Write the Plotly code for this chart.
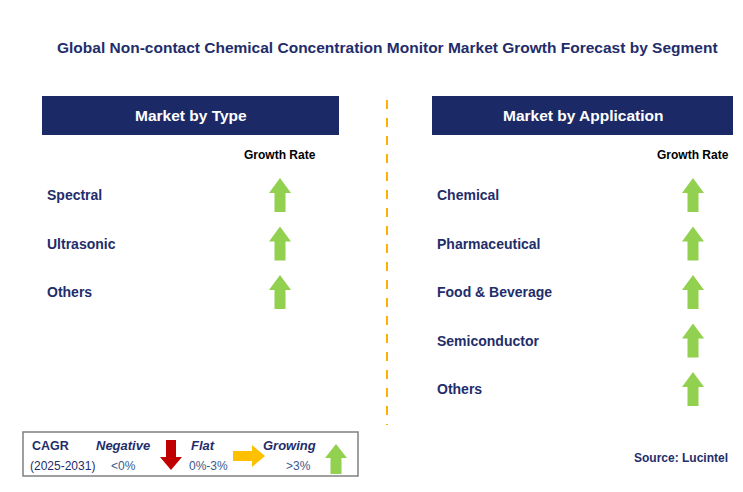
import plotly.graph_objects as go

W, H = 743, 492
OFF = 8  # page body margin
NAVY = "#1F2D6B"
GREEN = "#92D050"

title = "Global Non-contact Chemical Concentration Monitor Market Growth Forecast by Segment"
type_items = ["Spectral", "Ultrasonic", "Others"]
app_items = ["Chemical", "Pharmaceutical", "Food & Beverage", "Semiconductor", "Others"]
type_growth = ["up", "up", "up"]
app_growth = ["up", "up", "up", "up", "up"]
source = "Source: Lucintel"

fig = go.Figure()


def arrow(cx, cy, direction, color, w=22, h=34, shaft=11, head=15):
    # polygon for a block arrow centered at (cx, cy)
    if direction == "up":
        pts = [(cx - shaft / 2, cy + h / 2), (cx - shaft / 2, cy - h / 2 + head), (cx - w / 2, cy - h / 2 + head),
               (cx, cy - h / 2), (cx + w / 2, cy - h / 2 + head), (cx + shaft / 2, cy - h / 2 + head),
               (cx + shaft / 2, cy + h / 2)]
    elif direction == "down":
        pts = [(cx - shaft / 2, cy - h / 2), (cx - shaft / 2, cy + h / 2 - head), (cx - w / 2, cy + h / 2 - head),
               (cx, cy + h / 2), (cx + w / 2, cy + h / 2 - head), (cx + shaft / 2, cy + h / 2 - head),
               (cx + shaft / 2, cy - h / 2)]
    else:  # right
        pts = [(cx - h / 2, cy - shaft / 2), (cx + h / 2 - head, cy - shaft / 2), (cx + h / 2 - head, cy - w / 2),
               (cx + h / 2, cy), (cx + h / 2 - head, cy + w / 2), (cx + h / 2 - head, cy + shaft / 2),
               (cx - h / 2, cy + shaft / 2)]
    xs = [p[0] for p in pts] + [pts[0][0]]
    ys = [p[1] for p in pts] + [pts[0][1]]
    fig.add_trace(go.Scatter(x=xs, y=ys, fill="toself", fillcolor=color, mode="lines",
                             line=dict(width=0, color=color), hoverinfo="skip", showlegend=False))


shapes = []
ann = []

ann.append(dict(x=387, y=47, text="<b>%s</b>" % title, showarrow=False, font=dict(size=15.5, color=NAVY, family="Arial")))

# headers
for x0, x1, label in [(42, 339, "Market by Type"), (432, 733, "Market by Application")]:
    shapes.append(dict(type="rect", x0=x0, x1=x1, y0=96, y1=135, fillcolor="#1B2A66", line=dict(width=0), layer="below"))
    ann.append(dict(x=(x0 + x1) / 2, y=115.5, text="<b>%s</b>" % label, showarrow=False,
                    font=dict(size=15.5, color="white", family="Arial")))

ann.append(dict(x=280, y=155, text="<b>Growth Rate</b>", showarrow=False, font=dict(size=12, color="black", family="Arial")))
ann.append(dict(x=693, y=155, text="<b>Growth Rate</b>", showarrow=False, font=dict(size=12, color="black", family="Arial")))

for i, (name, g) in enumerate(zip(type_items, type_growth)):
    y = 195 + i * 48.5
    ann.append(dict(x=45, y=y, text="<b>%s</b>" % name, showarrow=False, xanchor="left",
                    font=dict(size=14, color=NAVY, family="Arial")))
    arrow(280, y, g, GREEN)

for i, (name, g) in enumerate(zip(app_items, app_growth)):
    y = 195 + i * 48.5
    ann.append(dict(x=435, y=y, text="<b>%s</b>" % name, showarrow=False, xanchor="left",
                    font=dict(size=14, color=NAVY, family="Arial")))
    arrow(693, y, g, GREEN)

shapes.append(dict(type="line", x0=387, x1=387, y0=100, y1=425, line=dict(color="#FFB000", width=2, dash="dash")))

# legend box
shapes.append(dict(type="rect", x0=23, x1=358, y0=432, y1=476, line=dict(color="#808080", width=1.5), fillcolor="white", layer="below"))
ann.append(dict(x=30, y=446, text="<b>CAGR</b>", showarrow=False, xanchor="left", font=dict(size=12.5, color=NAVY, family="Arial")))
ann.append(dict(x=28, y=466, text="(2025-2031)", showarrow=False, xanchor="left", font=dict(size=12, color=NAVY, family="Arial")))
ann.append(dict(x=123, y=445, text="<b><i>Negative</i></b>", showarrow=False, font=dict(size=13, color=NAVY, family="Arial")))
ann.append(dict(x=123, y=466, text="<0%", showarrow=False, font=dict(size=12, color="#3A5A8C", family="Arial")))
arrow(171, 455, "down", "#C00000", w=22, h=30, shaft=10, head=13)
ann.append(dict(x=203, y=445, text="<b><i>Flat</i></b>", showarrow=False, font=dict(size=13, color=NAVY, family="Arial")))
ann.append(dict(x=208, y=466, text="0%-3%", showarrow=False, font=dict(size=12, color="#3A5A8C", family="Arial")))
arrow(249, 456, "right", "#FFC000", w=22, h=32, shaft=10, head=13)
ann.append(dict(x=289, y=445, text="<b><i>Growing</i></b>", showarrow=False, font=dict(size=13, color=NAVY, family="Arial")))
ann.append(dict(x=298, y=466, text=">3%", showarrow=False, font=dict(size=12, color="#3A5A8C", family="Arial")))
arrow(336, 459, "up", GREEN, w=22, h=30, shaft=11, head=14)

ann.append(dict(x=730, y=458, text="<b>%s</b>" % source, showarrow=False, xanchor="right",
                font=dict(size=12, color=NAVY, family="Arial")))

fig.update_layout(width=W - OFF, height=H - OFF, margin=dict(l=0, r=0, t=0, b=0), plot_bgcolor="white",
                  paper_bgcolor="white", shapes=shapes, annotations=ann, showlegend=False)
fig.update_xaxes(range=[OFF, W], visible=False, fixedrange=True)
fig.update_yaxes(range=[H, OFF], visible=False, fixedrange=True)

fig.write_html("out.html")
